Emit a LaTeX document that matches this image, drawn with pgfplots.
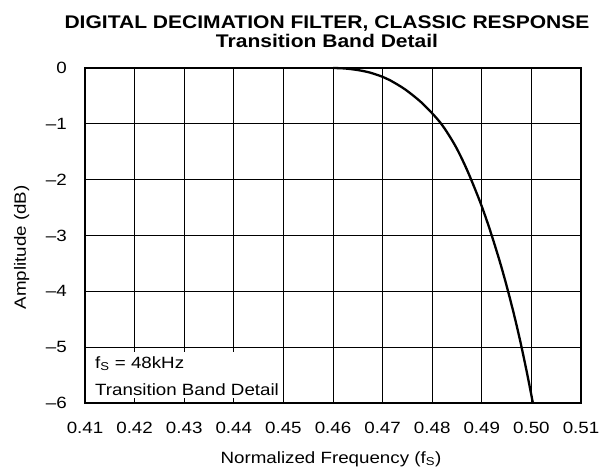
\documentclass[border=0pt]{standalone}
\usepackage{fontspec}
\setmainfont[FakeStretch=1.15]{Liberation Sans}
\usepackage{pgfplots}
\pgfplotsset{compat=1.18}
\begin{document}
\fontsize{16.3bp}{19bp}\selectfont
\begin{tikzpicture}
\useasboundingbox (-85bp,-65bp) rectangle (518bp,403bp);
\begin{axis}[
  at={(0,0)}, anchor=south west,
  scale only axis, width=496bp, height=335bp,
  xmin=0.41, xmax=0.51, ymin=-6, ymax=0,
  xtick={0.41,0.42,0.43,0.44,0.45,0.46,0.47,0.48,0.49,0.50,0.51},
  xticklabels={0.41,0.42,0.43,0.44,0.45,0.46,0.47,0.48,0.49,0.50,0.51},
  ytick={-6,-5,-4,-3,-2,-1,0},
  yticklabels={\textendash6,\textendash5,\textendash4,\textendash3,\textendash2,\textendash1,0},
  grid=major,
  major grid style={black, line width=0.9bp},
  axis line style={line width=2.5bp},
  major tick length=0pt,
  tick label style={font=\fontsize{16.3bp}{19bp}\selectfont, inner sep=0pt},
  xticklabel style={anchor=north, yshift=-18.7bp},
  yticklabel style={anchor=east, xshift=-18bp},
  clip=false,
]
\fill[white] ([xshift=1.5bp,yshift=5bp]axis cs:0.41,-6) rectangle ([xshift=-1bp,yshift=-5bp]axis cs:0.45,-5);
\node[anchor=base west, inner sep=0pt] at ([xshift=10bp,yshift=35bp]axis cs:0.41,-6) {f\textsubscript{S} = 48kHz};
\node[anchor=base west, inner sep=0pt] at ([xshift=10bp,yshift=8bp]axis cs:0.41,-6) {Transition Band Detail};
\addplot[black, line width=2.3bp, smooth] coordinates {
(0.4600,0) (0.4624,-0.0084) (0.4650,-0.037) (0.4674,-0.081) (0.4700,-0.158)
(0.4714,-0.215) (0.4745,-0.381) (0.4781,-0.640) (0.4817,-0.986) (0.4846,-1.385)
(0.4870,-1.821) (0.4896,-2.385) (0.4915,-2.862) (0.4935,-3.428) (0.4950,-3.90)
(0.4965,-4.418) (0.4978,-4.912) (0.4991,-5.458) (0.5003,-6.0)
};
\end{axis}
\node[anchor=base, inner sep=0pt, font=\bfseries\fontsize{18.3bp}{20bp}\selectfont] at (242bp,374.7bp) {DIGITAL DECIMATION FILTER, CLASSIC RESPONSE};
\node[anchor=base, inner sep=0pt, font=\bfseries\fontsize{18.3bp}{20bp}\selectfont] at (242bp,355bp) {Transition Band Detail};
\node[anchor=base, inner sep=0pt] at (246bp,-60bp) {Normalized Frequency (f\textsubscript{S})};
\node[anchor=base, inner sep=0pt, rotate=90] at (-59bp,155.5bp) {Amplitude (dB)};
\end{tikzpicture}
\end{document}
